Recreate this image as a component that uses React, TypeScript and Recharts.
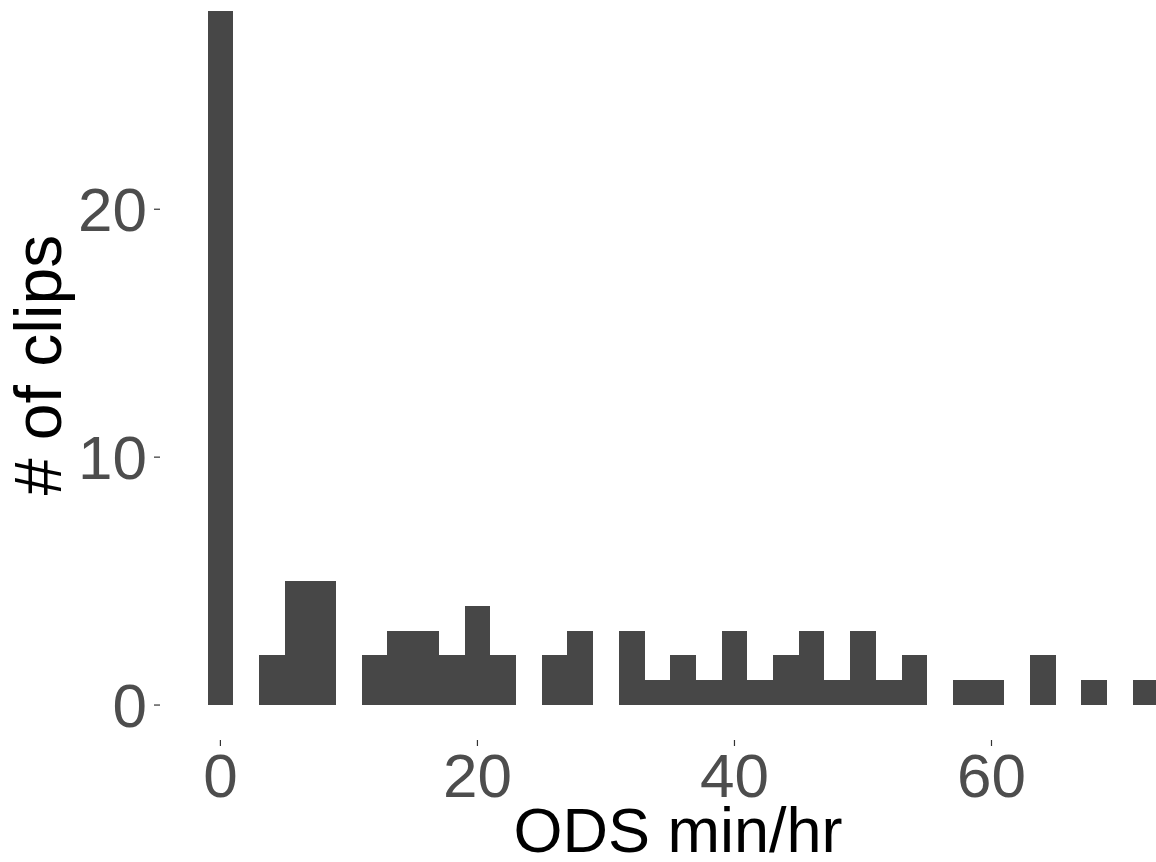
import { BarChart, Bar, XAxis, YAxis } from 'recharts';

// histogram bins (bin centre, ODS min/hr) and counts
const binCenters = [0, 2, 4, 6, 8, 10, 12, 14, 16, 18, 20, 22, 24, 26, 28, 30, 32, 34, 36, 38, 40, 42, 44, 46, 48, 50, 52, 54, 56, 58, 60, 62, 64, 66, 68, 70, 72];
const clipCounts = [28, 0, 2, 5, 5, 0, 2, 3, 3, 2, 4, 2, 0, 2, 3, 0, 3, 1, 2, 1, 3, 1, 2, 3, 1, 3, 1, 2, 0, 1, 1, 0, 2, 0, 1, 0, 1];
const xTicks = [0, 20, 40, 60];
const yTicks = [0, 10, 20];

const data = binCenters.map((ods, i) => ({ ods, clips: clipCounts[i] }));

const FONT = '"Liberation Sans", Arial, Helvetica, sans-serif';
const tickStyle = { fontSize: 62, fill: '#4d4d4d', fontFamily: FONT };

export default function App() {
  return (
    <div style={{ position: 'absolute', left: 0, top: 0, background: '#fff' }}>
      <BarChart
        width={1156}
        height={862}
        data={data}
        margin={{ top: 0, right: 0, bottom: 0, left: 0 }}
        barCategoryGap={0}
        barGap={0}
      >
        <XAxis
          type="number"
          dataKey="ods"
          domain={[-4.7, 72.8]}
          allowDataOverflow
          ticks={xTicks}
          interval={0}
          height={122}
          axisLine={false}
          tickLine={{ stroke: '#333333', strokeWidth: 1.2 }}
          tickSize={6}
          tickMargin={7}
          tick={tickStyle}
          label={{
            content: () => (
              <text x={678} y={852} textAnchor="middle" fontSize={63} fill="#000" fontFamily={FONT}>
                ODS min/hr
              </text>
            ),
          }}
        />
        <YAxis
          type="number"
          domain={[-1.41, 28.44]}
          allowDataOverflow
          ticks={yTicks}
          interval={0}
          width={160}
          axisLine={false}
          tickLine={{ stroke: '#333333', strokeWidth: 1.2 }}
          tickSize={6}
          tickMargin={7}
          tick={tickStyle}
          label={{
            content: () => (
              <text
                x={61}
                y={365}
                transform="rotate(-90 61 365)"
                textAnchor="middle"
                fontSize={66}
                fill="#000"
                fontFamily={FONT}
              >
                # of clips
              </text>
            ),
          }}
        />
        <Bar
          dataKey="clips"
          fill="#474747"
          shapeRendering="crispEdges"
          barSize={25.7}
          isAnimationActive={false}
        />
      </BarChart>
    </div>
  );
}
